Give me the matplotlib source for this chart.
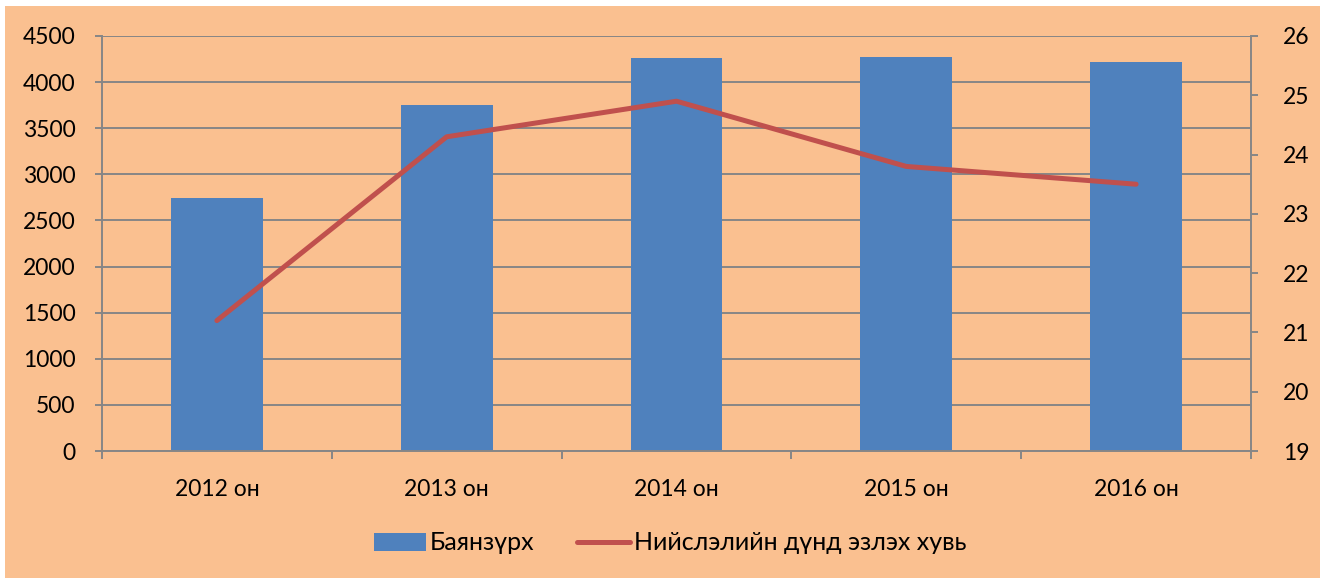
import numpy as np
import matplotlib.pyplot as plt
from matplotlib.patches import Rectangle

# data
years = ['2012 он', '2013 он', '2014 он', '2015 он', '2016 он']
bayanzurkh = [2740, 3750, 4262, 4272, 4218]
share = [21.2, 24.3, 24.9, 23.8, 23.5]
bar_label = 'Баянзүрх'
line_label = 'Нийслэлийн дүнд эзлэх хувь'

plt.rcParams['font.family'] = ['Lato', 'DejaVu Sans']
fs = 16.5
grey = '#868686'
peach = '#FAC090'

fig = plt.figure(figsize=(13.24, 5.79), dpi=100, facecolor='white')
fig.patches.append(Rectangle((5 / 1324, 1 / 579), 1315 / 1324, 572 / 579,
                             transform=fig.transFigure, facecolor=peach,
                             edgecolor='none', zorder=-10))

ax = fig.add_axes([102 / 1324, 128 / 579, 1149 / 1324, 415 / 579])
ax.set_facecolor('none')
x = np.arange(len(years))

ax.bar(x, bayanzurkh, width=0.4, color='#4F81BD', zorder=2, label=bar_label)
ax.set_xlim(-0.5, len(years) - 0.5)
ax.set_ylim(0, 4500)
ax.set_yticks(np.arange(0, 4501, 500))
ax.grid(axis='y', color=grey, linewidth=1.4, zorder=0)
ax.set_axisbelow(True)

for s in ['top', 'right']:
    ax.spines[s].set_visible(False)
for s in ['left', 'bottom']:
    ax.spines[s].set_color(grey)
    ax.spines[s].set_linewidth(1.4)

ax.set_xticks(x)
ax.set_xticklabels(years)
ax.set_xticks(np.arange(-0.5, len(years)), minor=True)
ax.tick_params(axis='x', which='major', length=0, pad=20, labelsize=fs)
ax.tick_params(axis='x', which='minor', length=6, width=1.4, color=grey)
ax.tick_params(axis='y', length=5, width=1.4, color=grey, pad=14, labelsize=fs)

ax2 = ax.twinx()
ax2.plot(x, share, color='#C0504D', linewidth=3.6, solid_capstyle='round',
         zorder=3, label=line_label)
ax2.set_ylim(19, 26)
ax2.set_yticks(np.arange(19, 27, 1))
for s in ['top', 'left', 'bottom']:
    ax2.spines[s].set_visible(False)
ax2.spines['right'].set_color(grey)
ax2.spines['right'].set_linewidth(1.4)
ax2.tick_params(axis='y', length=5, width=1.4, color=grey, pad=18, labelsize=fs)

h1, l1 = ax.get_legend_handles_labels()
h2, l2 = ax2.get_legend_handles_labels()
fig.legend(h1 + h2, l1 + l2, loc='center', bbox_to_anchor=(670 / 1324, 36 / 579),
           ncol=2, frameon=False, fontsize=18, handlelength=2.1,
           handletextpad=0.15, columnspacing=1.7)

fig.savefig('out.png', dpi=100, facecolor='white')
